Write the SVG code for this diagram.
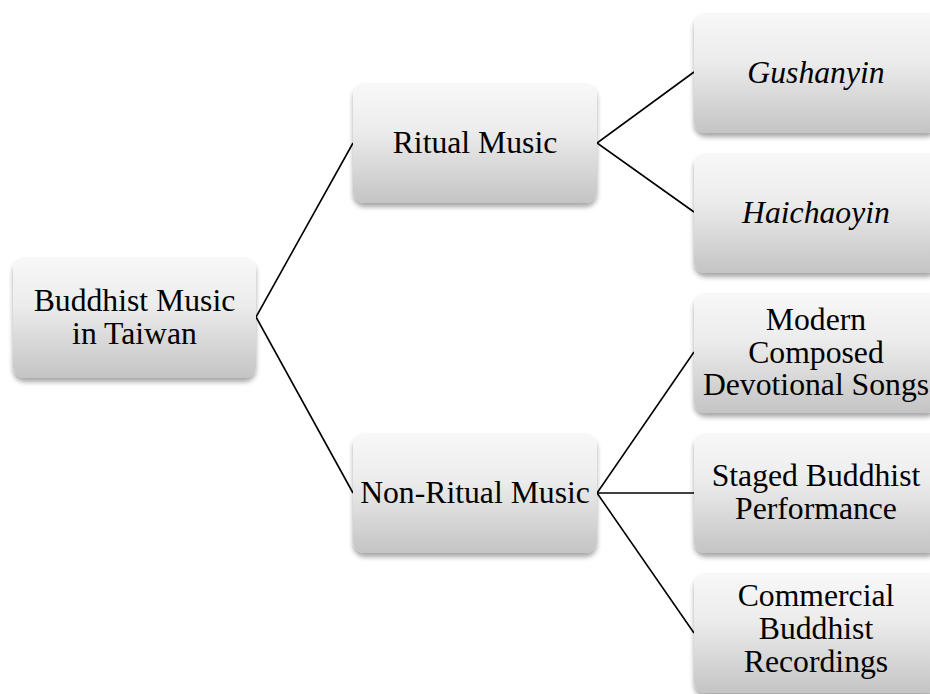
<svg xmlns="http://www.w3.org/2000/svg" width="930" height="694" viewBox="0 0 930 694">
<defs>
<linearGradient id="g" x1="0" y1="0" x2="0" y2="1">
<stop offset="0" stop-color="#f8f8f8"/>
<stop offset="0.4" stop-color="#ececec"/>
<stop offset="1" stop-color="#c4c4c4"/>
</linearGradient>
<filter id="sh" x="-10%" y="-10%" width="120%" height="130%">
<feGaussianBlur in="SourceAlpha" stdDeviation="2.5"/>
<feOffset dx="0" dy="4" result="b"/>
<feComponentTransfer><feFuncA type="linear" slope="0.35"/></feComponentTransfer>
<feMerge><feMergeNode/><feMergeNode in="SourceGraphic"/></feMerge>
</filter>
</defs>
<style>
.box{fill:url(#g);filter:url(#sh)}
.t{font-family:'Liberation Serif','Tinos','Noto Serif','DejaVu Serif',serif;font-size:31.7px;fill:#000;text-anchor:middle}
.i{font-style:italic}
.c{stroke:#000;stroke-width:1.6;fill:none}
</style>
<rect width="930" height="694" fill="#fff"/>
<g id="connectors">
<polyline class="c" points="353,143 256,317 353,493"/>
<polyline class="c" points="694,72 597,143 694,212"/>
<polyline class="c" points="694,352 597,493 694,633"/>
<line class="c" x1="597" y1="493" x2="694" y2="493"/>
</g>
<g id="root">
<rect class="box" x="13" y="257" width="243" height="121" rx="12"/>
<text class="t" x="134.5" y="311">Buddhist Music</text>
<text class="t" x="134.5" y="344">in Taiwan</text>
</g>
<g id="ritual">
<rect class="box" x="353" y="83" width="244" height="120" rx="12"/>
<text class="t" x="475" y="153">Ritual Music</text>
</g>
<g id="nonritual">
<rect class="box" x="353" y="433" width="244" height="120" rx="12"/>
<text class="t" x="475" y="503">Non-Ritual Music</text>
</g>
<g id="gushanyin">
<rect class="box" x="694" y="13" width="244" height="120" rx="12"/>
<text class="t i" x="816" y="83">Gushanyin</text>
</g>
<g id="haichaoyin">
<rect class="box" x="694" y="153" width="244" height="120" rx="12"/>
<text class="t i" x="816" y="223">Haichaoyin</text>
</g>
<g id="modern">
<rect class="box" x="694" y="293" width="244" height="120" rx="12"/>
<text class="t" x="816" y="330">Modern</text>
<text class="t" x="816" y="363">Composed</text>
<text class="t" x="816" y="395">Devotional Songs</text>
</g>
<g id="staged">
<rect class="box" x="694" y="433" width="244" height="120" rx="12"/>
<text class="t" x="816" y="486">Staged Buddhist</text>
<text class="t" x="816" y="519">Performance</text>
</g>
<g id="commercial">
<rect class="box" x="694" y="573" width="244" height="120" rx="12"/>
<text class="t" x="816" y="606">Commercial</text>
<text class="t" x="816" y="639">Buddhist</text>
<text class="t" x="816" y="672">Recordings</text>
</g>
</svg>
